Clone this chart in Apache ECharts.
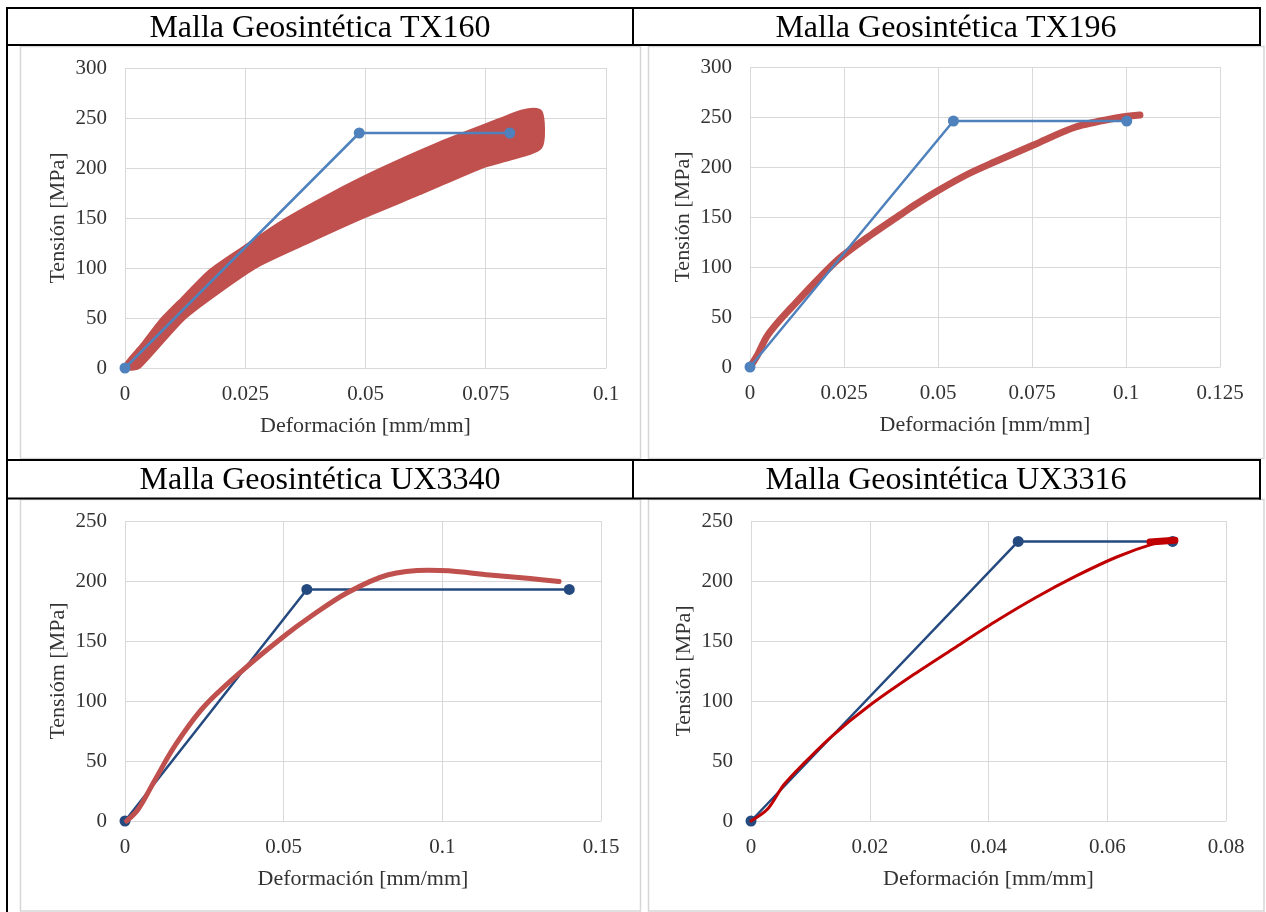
<!DOCTYPE html>
<html>
<head>
<meta charset="utf-8">
<script src="https://cdn.jsdelivr.net/npm/echarts@6/dist/echarts.min.js"></script>
<style>
html,body{margin:0;padding:0;background:#fff;}
#c{width:1266px;height:912px;}
</style>
</head>
<body>
<div id="c"></div>
<script>
// ---------- DATA ----------
const titles = ['Malla Geosintética TX160', 'Malla Geosintética TX196', 'Malla Geosintética UX3340', 'Malla Geosintética UX3316'];
const xName = 'Deformación [mm/mm]';
const yNames = ['Tensión [MPa]', 'Tensión [MPa]', 'Tensióm [MPa]', 'Tensión [MPa]'];
const xMax = [0.1, 0.125, 0.15, 0.08];
const xStep = [0.025, 0.025, 0.05, 0.02];
const yMax = [300, 300, 250, 250];
const yStep = [50, 50, 50, 50];

// TX160: band of test points (upper / lower edge centres) + bilinear model
const tx160BandUpper = [[0.001,3],[0.004,20],[0.008,45],[0.0125,67],[0.0181,94],[0.025,117],[0.0334,144],[0.043,170],[0.0529,194],[0.0655,221],[0.0783,245],[0.0826,253],[0.0858,254]];
const tx160BandLower = [[0.0025,4],[0.0121,54],[0.0266,104],[0.038,130],[0.0495,155],[0.062,180],[0.0741,205],[0.08,213],[0.0858,223]];
const tx160Model = [[0,0],[0.0487,235],[0.080,235]];

// TX196
const tx196Test = [[0,0],[0.002,12],[0.0044,30],[0.0075,45],[0.0109,59],[0.0174,85],[0.0239,109],[0.0325,133],[0.0399,152],[0.0434,161],[0.0503,177],[0.058,193],[0.065,205],[0.0754,222],[0.0866,240],[0.0974,249],[0.1037,252]];
const tx196Model = [[0,0],[0.0541,246],[0.1002,246]];

// UX3340
const ux3340Test = [[0.0005,0],[0.0042,10],[0.0094,34],[0.0158,63],[0.0248,95],[0.0377,127],[0.0506,155],[0.0583,170],[0.0699,190],[0.0827,205],[0.0956,209],[0.102,208.5],[0.1149,205],[0.1277,202],[0.1368,199.5]];
const ux3340Model = [[0,0],[0.0573,193],[0.14,193]];

// UX3316
const ux3316Test = [[0,0],[0.0028,10],[0.0055,30],[0.0089,48],[0.0137,71],[0.0199,96],[0.0274,122],[0.0342,144],[0.0411,166],[0.0479,186],[0.0547,204],[0.0616,220],[0.0684,232],[0.0711,234]];
const ux3316TestEnd = [[0.0672,232.5],[0.0714,234]];
const ux3316Model = [[0,0],[0.045,233],[0.071,233]];

// ---------- STYLE / LAYOUT ----------
const FONT = "'Liberation Serif','Times New Roman',serif";
const RED = '#C0504D', RED2 = '#C00000', BLUE = '#4F81BD', NAVY = '#254A7F';
const GRIDC = '#d9d9d9', TXT = '#333333';
const grids = [
  {left:125, top:68, width:481, height:300},
  {left:750, top:67, width:470, height:300},
  {left:125, top:521, width:476, height:300},
  {left:751, top:521, width:475, height:300}
];

function fmt(v){ return String(parseFloat(v.toFixed(4))); }

const xAxes = grids.map((g,i)=>({
  gridIndex:i, type:'value', min:0, max:xMax[i], interval:xStep[i],
  axisLine:{show:true, lineStyle:{color:GRIDC, width:1}},
  axisTick:{show:false},
  splitLine:{show:true, lineStyle:{color:GRIDC, width:1}},
  axisLabel:{fontFamily:FONT, fontSize:21, color:TXT, margin:16, formatter:fmt, showMaxLabel:true, showMinLabel:true},
  name:xName, nameLocation:'middle', nameGap:47,
  nameTextStyle:{fontFamily:FONT, fontSize:22, color:TXT}
}));
const yAxes = grids.map((g,i)=>({
  gridIndex:i, type:'value', min:0, max:yMax[i], interval:yStep[i],
  axisLine:{show:false}, axisTick:{show:false},
  splitLine:{show:true, lineStyle:{color:GRIDC, width:1}},
  axisLabel:{fontFamily:FONT, fontSize:21, color:TXT, margin:18, showMaxLabel:true},
  name:yNames[i], nameLocation:'middle', nameGap:56,
  nameTextStyle:{fontFamily:FONT, fontSize:22, color:TXT}
}));

function lineS(idx, data, color, width, symSize, z, smooth){
  return {type:'line', xAxisIndex:idx, yAxisIndex:idx, data:data,
    showSymbol: symSize>0, symbol:'circle', symbolSize:symSize||0, smooth:smooth||false,
    lineStyle:{color:color, width:width, cap:'round', join:'round'},
    itemStyle:{color:color}, z:z, silent:true, animation:false, clip:false};
}

const series = [
  {type:'custom', xAxisIndex:0, yAxisIndex:0, data:[[0,0]], silent:true, z:1, clip:false,
   renderItem:function(params, api){
     const pts = tx160BandUpper.concat(tx160BandLower.slice().reverse()).map(p=>api.coord(p));
     return {type:'polygon', shape:{points:pts, smooth:0.2}, style:{fill:RED, stroke:RED, lineWidth:11, lineJoin:'round'}};
   }},
  lineS(0, tx160Model, BLUE, 2.5, 11, 3),
  lineS(1, tx196Test, RED, 7, 0, 1, 0.3),
  lineS(1, tx196Model, BLUE, 2.5, 11, 3),
  lineS(2, ux3340Model, NAVY, 2.5, 11, 1),
  lineS(2, ux3340Test, RED, 5, 0, 3, 0.35),
  lineS(3, ux3316Model, NAVY, 2.5, 11, 1),
  lineS(3, ux3316Test, RED2, 3, 0, 3, 0.3),
  lineS(3, ux3316TestEnd, RED2, 7, 0, 3)
];

// table frame + chart-area frames + titles
const graphic = [];
function hl(x1,x2,y,w,c){ graphic.push({type:'line', shape:{x1:x1,y1:y,x2:x2,y2:y}, style:{stroke:c,lineWidth:w}, silent:true, z:100}); }
function vl(x,y1,y2,w,c){ graphic.push({type:'line', shape:{x1:x,y1:y1,x2:x,y2:y2}, style:{stroke:c,lineWidth:w}, silent:true, z:100}); }
function rect(x1,y1,x2,y2){ graphic.push({type:'rect', shape:{x:x1,y:y1,width:x2-x1,height:y2-y1}, style:{fill:null, stroke:'#d6d6d6', lineWidth:1.5}, silent:true, z:-1}); }
rect(20.5,46.5,640.5,458.5);
rect(648.5,46.5,1264,458.5);
rect(20.5,499.5,640.5,911);
rect(648.5,499.5,1264,911);
hl(6,1261,8,2,'#000'); hl(6,1261,45,2,'#000');
hl(6,1261,460,2,'#000'); hl(6,1261,498.5,2,'#000');
vl(7,7,912,2,'#000');
vl(633,8,45,2,'#000'); vl(1260,7,46,2,'#000');
vl(633,460,498.5,2,'#000'); vl(1260,459,499.5,2,'#000');
const titlePos = [[320,29],[946,29],[320,481],[946,481]];
titles.forEach((t,i)=>{
  graphic.push({type:'text', x:titlePos[i][0], y:titlePos[i][1], silent:true, z:101,
    style:{text:t, fontFamily:FONT, fontSize:32, fill:'#000', textAlign:'center', textVerticalAlign:'middle'}});
});

const chart = echarts.init(document.getElementById('c'), null, {renderer:'canvas'});
chart.setOption({
  animation:false,
  backgroundColor:'#ffffff',
  grid:grids,
  xAxis:xAxes,
  yAxis:yAxes,
  series:series,
  graphic:graphic
});
</script>
</body>
</html>
